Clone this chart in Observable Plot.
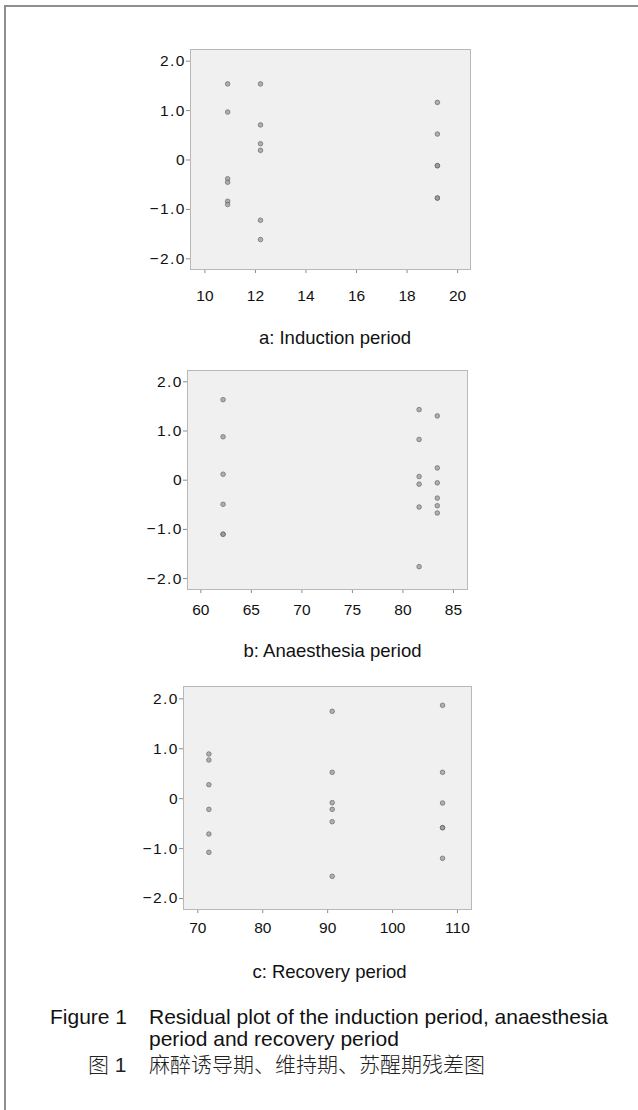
<!DOCTYPE html>
<html>
<head>
<meta charset="utf-8">
<script src="https://cdn.jsdelivr.net/npm/d3@7"></script>
<script src="https://cdn.jsdelivr.net/npm/@observablehq/plot@0.6"></script>
<style>
html, body { margin: 0; padding: 0; background: #fff; }
#page { position: relative; width: 638px; height: 1110px; overflow: hidden;
  font-family: "Liberation Sans", Arial, sans-serif; color: #111; }
#outer { position: absolute; left: 4px; top: 5px; width: 700px; height: 1200px;
  border-top: 2px solid #8e8e8e; border-left: 2px solid #8e8e8e; box-sizing: border-box; }
.panel { position: absolute; left: 0; }
.panel svg { overflow: visible; }
g[aria-label="y-axis tick label"] text { letter-spacing: 1.5px; }
.cap { position: absolute; width: 400px; text-align: center; font-size: 18.5px; line-height: 1; white-space: nowrap; }
.fig { position: absolute; font-size: 21px; line-height: 22.5px; }
.cn { font-family: "Liberation Sans", "Noto Sans CJK SC", sans-serif; font-weight: 300; color: #222; }
</style>
</head>
<body>
<div id="page">
  <div id="outer"></div>
  <div class="panel" id="pa" style="top:39px"></div>
  <div class="cap" id="capA" style="left:135px; top:329.3px"></div>
  <div class="panel" id="pb" style="top:360px"></div>
  <div class="cap" id="capB" style="left:132.5px; top:642.3px"></div>
  <div class="panel" id="pc" style="top:676px"></div>
  <div class="cap" id="capC" style="left:129.5px; top:963.3px"></div>
  <div class="fig" id="figLabel" style="left:50px; top:1005.8px"></div>
  <div class="fig" id="figText" style="left:149px; top:1005.8px; width:475px"></div>
  <div class="fig cn" id="figLabelCn" style="left:88px; top:1053.5px"></div>
  <div class="fig cn" id="figTextCn" style="left:149px; top:1053.5px; white-space:nowrap"></div>
</div>
<script>
// ---- Data ----
// a: Induction period
const inductionFitted = [10.9, 10.9, 10.9, 10.9, 10.9, 10.9,
                         12.2, 12.2, 12.2, 12.2, 12.2, 12.2,
                         19.2, 19.2, 19.2, 19.2, 19.2, 19.2];
const inductionResid  = [1.54, 0.97, -0.38, -0.45, -0.835, -0.90,
                         1.54, 0.71, 0.33, 0.195, -1.22, -1.61,
                         1.165, 0.525, -0.115, -0.115, -0.77, -0.77];
const inductionTicks = [10, 12, 14, 16, 18, 20];

// b: Anaesthesia period
const anaesthesiaFitted = [62.2, 62.2, 62.2, 62.2, 62.2, 62.2,
                           81.6, 81.6, 81.6, 81.6, 81.6, 81.6,
                           83.4, 83.4, 83.4, 83.4, 83.4, 83.4];
const anaesthesiaResid  = [1.636, 0.882, 0.121, -0.49, -1.098, -1.098,
                           1.434, 0.828, 0.074, -0.081, -0.545, -1.758,
                           1.306, 0.249, -0.054, -0.364, -0.519, -0.667];
const anaesthesiaTicks = [60, 65, 70, 75, 80, 85];

// c: Recovery period
const recoveryFitted = [71.7, 71.7, 71.7, 71.7, 71.7, 71.7,
                        90.7, 90.7, 90.7, 90.7, 90.7, 90.7,
                        107.7, 107.7, 107.7, 107.7, 107.7, 107.7];
const recoveryResid  = [0.895, 0.775, 0.28, -0.214, -0.708, -1.075,
                        1.75, 0.528, -0.08, -0.214, -0.461, -1.556,
                        1.87, 0.528, -0.087, -0.581, -0.581, -1.195];
const recoveryTicks = [70, 80, 90, 100, 110];

const residTicks = [-2, -1, 0, 1, 2];

const panelCaptions = ["a: Induction period", "b: Anaesthesia period", "c: Recovery period"];
const figureLabel = "Figure 1";
const figureText = "Residual plot of the induction period, anaesthesia period and recovery period";
const figureLabelCn = "图 1";
const figureTextCn = "麻醉诱导期、维持期、苏醒期残差图";

// ---- Drawing ----
const fmtY = d => d === 0 ? "0" : (d < 0 ? "\u2212" : "") + Math.abs(d).toFixed(1);

function residualPlot(cfg) {
  const data = cfg.fitted.map((x, i) => ({x, r: cfg.resid[i]}));
  return Plot.plot({
    width: 638,
    height: (cfg.bottom - cfg.top) + 10 + 40,
    marginLeft: cfg.left,
    marginRight: 638 - cfg.right,
    marginTop: 10,
    marginBottom: 40,
    style: {fontFamily: '"Liberation Sans", Arial, sans-serif', fontSize: "15.5px", color: "#111", background: "transparent", overflow: "visible"},
    x: {domain: cfg.xDomain},
    y: {domain: cfg.yDomain},
    marks: [
      Plot.frame({fill: "#f0f0f0", stroke: null}),
      Plot.axisX({ticks: cfg.xTicks, tickSize: 4, tickPadding: cfg.xPad, stroke: "#8c8c8c", label: null, tickFormat: d => String(d)}),
      Plot.axisY({ticks: residTicks, tickSize: 4, tickPadding: 0.5, stroke: "#8c8c8c", label: null, tickFormat: fmtY}),
      Plot.dot(data, {x: "x", y: "r", r: 2.3, fill: "#9a9a9a", fillOpacity: 0.75, stroke: "#5e5e5e", strokeOpacity: 0.7, strokeWidth: 0.9}),
      Plot.frame({stroke: "#b8b8b8", strokeWidth: 1})
    ]
  });
}

document.getElementById("pa").append(residualPlot({
  fitted: inductionFitted, resid: inductionResid, xTicks: inductionTicks,
  left: 190, right: 470, top: 49, bottom: 269,
  xDomain: [9.43, 20.51], yDomain: [-2.216, 2.236], xPad: 16
}));
document.getElementById("pb").append(residualPlot({
  fitted: anaesthesiaFitted, resid: anaesthesiaResid, xTicks: anaesthesiaTicks,
  left: 187, right: 467, top: 370, bottom: 589,
  xDomain: [58.68, 86.39], yDomain: [-2.222, 2.229], xPad: 10
}));
document.getElementById("pc").append(residualPlot({
  fitted: recoveryFitted, resid: recoveryResid, xTicks: recoveryTicks,
  left: 183, right: 471, top: 686, bottom: 909,
  xDomain: [67.79, 112.16], yDomain: [-2.22, 2.247], xPad: 8
}));

document.getElementById("capA").textContent = panelCaptions[0];
document.getElementById("capB").textContent = panelCaptions[1];
document.getElementById("capC").textContent = panelCaptions[2];
document.getElementById("figLabel").textContent = figureLabel;
document.getElementById("figText").textContent = figureText;
document.getElementById("figLabelCn").textContent = figureLabelCn;
document.getElementById("figTextCn").textContent = figureTextCn;
</script>
</body>
</html>
